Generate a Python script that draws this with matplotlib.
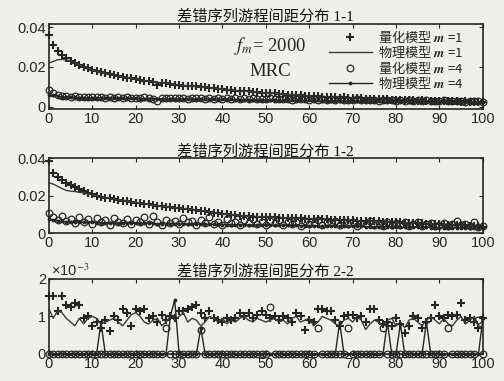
import numpy as np
import matplotlib
matplotlib.use('Agg')
import matplotlib.pyplot as plt

plt.rcParams['font.family'] = ['Liberation Sans', 'Noto Sans CJK SC']
plt.rcParams['mathtext.fontset'] = 'stix'

# run spacing 0..100
spacing = list(range(101))

# panel 1-1, values in units of 1e-4
p11_quant_m1 = [360, 310, 282, 262, 246, 232, 218, 210, 199, 193,
                184, 180, 173, 170, 163, 160, 154, 152, 146, 144,
                138, 136, 131, 130, 125, 112, 122, 118, 117, 112,
                111, 107, 107, 103, 103, 99, 99, 95, 95, 91,
                90, 86, 86, 82, 82, 78, 79, 75, 75, 71,
                71, 68, 68, 65, 65, 62, 62, 59, 59, 56,
                56, 53, 54, 51, 52, 49, 50, 47, 48, 45,
                46, 43, 44, 41, 42, 39, 41, 38, 39, 36,
                37, 35, 36, 33, 35, 32, 34, 31, 32, 30,
                31, 29, 30, 28, 29, 27, 28, 26, 27, 25,
                26]
p11_phys_m1 = [220, 228, 236, 238, 236, 229, 219, 209, 200, 192,
               185, 179, 173, 168, 163, 159, 155, 151, 147, 143,
               139, 136, 132, 129, 126, 120, 121, 119, 116, 113,
               111, 108, 106, 104, 102, 100, 98, 96, 94, 91,
               89, 87, 85, 83, 81, 79, 77, 76, 74, 72,
               70, 69, 67, 66, 64, 63, 61, 60, 58, 57,
               56, 54, 53, 52, 51, 50, 49, 48, 47, 46,
               45, 44, 43, 42, 41, 41, 40, 39, 38, 37,
               37, 36, 35, 35, 34, 33, 33, 32, 31, 31,
               30, 30, 29, 29, 28, 28, 27, 27, 27, 26,
               26]
p11_quant_m4 = [85, 72, 62, 57, 55, 52, 54, 50, 52, 49,
                51, 48, 50, 47, 49, 46, 50, 45, 48, 46,
                47, 44, 48, 45, 42, 30, 44, 46, 43, 47,
                44, 46, 42, 45, 43, 46, 42, 45, 41, 44,
                42, 45, 41, 44, 40, 43, 41, 44, 39, 42,
                40, 43, 38, 41, 39, 42, 37, 40, 38, 41,
                36, 39, 37, 40, 35, 38, 36, 39, 34, 37,
                35, 38, 33, 36, 34, 37, 32, 35, 33, 36,
                31, 34, 32, 35, 30, 33, 31, 34, 29, 32,
                30, 33, 28, 31, 29, 32, 27, 30, 28, 31,
                27]
p11_phys_m4 = [62, 58, 55, 52, 50, 49, 48, 47, 47, 46,
               46, 45, 45, 45, 44, 44, 44, 43, 43, 43,
               43, 42, 42, 42, 42, 41, 41, 41, 41, 40,
               40, 40, 40, 40, 39, 39, 39, 39, 38, 38,
               38, 38, 38, 37, 37, 37, 37, 36, 36, 36,
               36, 35, 35, 35, 35, 34, 34, 34, 34, 33,
               33, 33, 33, 32, 32, 32, 32, 31, 31, 31,
               31, 30, 30, 30, 30, 29, 29, 29, 29, 28,
               28, 28, 28, 27, 27, 27, 27, 26, 26, 26,
               26, 25, 25, 25, 25, 24, 24, 24, 24, 23,
               23]

# panel 1-2, values in units of 1e-4
p12_quant_m1 = [385, 320, 298, 284, 270, 257, 244, 233, 223, 214,
                207, 200, 195, 189, 185, 180, 176, 173, 169, 166,
                163, 160, 157, 153, 151, 147, 145, 141, 139, 136,
                134, 131, 129, 125, 123, 119, 117, 113, 110, 106,
                103, 100, 98, 95, 94, 91, 90, 88, 88, 86,
                86, 84, 84, 82, 82, 80, 80, 79, 79, 78,
                78, 76, 76, 74, 74, 72, 72, 71, 70, 69,
                69, 67, 67, 65, 65, 63, 63, 61, 61, 59,
                58, 57, 56, 55, 54, 53, 52, 51, 50, 49,
                48, 46, 45, 44, 43, 42, 41, 40, 38, 37,
                35]
p12_phys_m1 = [268, 262, 250, 238, 228, 224, 222, 218, 214, 209,
               204, 199, 194, 189, 185, 181, 177, 173, 170, 166,
               163, 160, 156, 153, 150, 147, 144, 141, 138, 136,
               133, 130, 128, 125, 122, 119, 116, 113, 110, 107,
               104, 101, 99, 96, 94, 92, 90, 89, 88, 87,
               86, 85, 84, 83, 82, 81, 80, 79, 79, 78,
               77, 76, 75, 74, 73, 72, 71, 71, 70, 69,
               68, 67, 66, 65, 64, 63, 62, 61, 60, 59,
               58, 57, 56, 55, 54, 53, 52, 51, 50, 49,
               48, 47, 46, 45, 44, 43, 42, 40, 39, 38,
               36]
p12_quant_m4 = [108, 85, 72, 92, 65, 78, 55, 88, 62, 75,
                50, 82, 58, 70, 45, 80, 60, 52, 74, 48,
                68, 57, 84, 50, 93, 62, 45, 72, 55, 66,
                48, 80, 58, 64, 42, 70, 54, 86, 50, 62,
                46, 75, 56, 60, 44, 68, 52, 78, 48, 58,
                42, 66, 54, 72, 46, 60, 50, 58, 40, 64,
                48, 56, 70, 44, 60, 52, 66, 42, 58, 50,
                62, 40, 54, 48, 66, 44, 56, 38, 60, 46,
                52, 42, 58, 36, 50, 62, 40, 48, 54, 38,
                46, 56, 36, 50, 66, 42, 48, 38, 60, 34,
                40]
p12_phys_m4 = [75, 70, 66, 63, 61, 60, 59, 58, 58, 57,
               57, 56, 56, 55, 55, 55, 54, 54, 54, 53,
               53, 53, 52, 52, 52, 51, 51, 51, 50, 50,
               50, 49, 49, 49, 48, 48, 48, 47, 47, 47,
               46, 46, 46, 45, 45, 45, 44, 44, 44, 43,
               43, 43, 42, 42, 42, 41, 41, 41, 40, 40,
               40, 39, 39, 39, 38, 38, 38, 37, 37, 37,
               36, 36, 36, 35, 35, 35, 34, 34, 34, 33,
               33, 33, 32, 32, 32, 31, 31, 31, 30, 30,
               30, 29, 29, 29, 28, 28, 28, 27, 27, 27,
               26]

# panel 2-2, values in units of 1e-3
p22_quant_m1 = [1.55, 1.55, 1.15, 1.55, 1.3, 1.25, 1.35, 1.3, 0.95, 1.0,
                0.75, 0.85, 0.7, 0.9, 0.6, 1.0, 0.9, 1.2, 1.1, 0.75,
                1.2, 1.15, 1.2, 0.95, 1.0, 0.85, 1.05, 0.9, 1.0, 0.95,
                1.15, 1.15, 1.2, 1.25, 1.3, 1.1, 0.95, 1.15, 0.95, 0.9,
                0.85, 0.95, 0.9, 0.95, 1.1, 1.0, 1.1, 0.95, 1.05, 1.15,
                1.05, 0.95, 1.0, 0.9, 1.0, 0.95, 0.85, 1.1, 1.0, 0.65,
                0.9, 0.85, 1.2, 1.2, 1.15, 1.15, 0.9, 0.75, 1.0, 1.05,
                1.05, 0.95, 1.0, 0.85, 1.2, 1.2, 0.9, 0.8, 0.85, 0.75,
                0.95, 0.8, 0.55, 0.75, 1.0, 0.95, 0.7, 0.85, 0.95, 1.3,
                1.0, 0.95, 1.05, 1.0, 1.05, 1.35, 0.9, 0.95, 0.85, 0.7,
                0.95]
p22_phys_m1 = [1.2, 0.95, 1.15, 1.1, 0.95, 0.85, 0.75, 0.95, 0.8, 0.95,
               1.0, 0.95, 0.8, 0.85, 0.9, 0.95, 0.85, 0.75, 0.9, 1.05,
               1.1, 1.0, 0.85, 0.8, 0.9, 0.95, 0.75, 0.85, 1.0, 0.9,
               1.0, 1.1, 0.85, 0.95, 0.9, 0.75, 0.85, 1.0, 0.95, 0.85,
               0.95, 0.8, 0.9, 0.85, 0.95, 1.0, 0.9, 0.85, 0.95, 0.9,
               0.85, 0.9, 0.95, 0.85, 0.9, 0.8, 0.95, 1.0, 0.85, 0.9,
               0.95, 0.75, 0.85, 1.0, 0.95, 0.9, 0.8, 0.75, 0.9, 0.95,
               0.85, 1.0, 0.9, 0.65, 0.8, 0.9, 0.85, 0.75, 0.9, 0.95,
               0.75, 0.85, 0.7, 0.9, 0.95, 0.85, 0.75, 0.9, 1.0, 0.9,
               0.8, 0.95, 0.8, 0.75, 0.9, 1.0, 0.8, 0.9, 1.0, 0.75,
               0.7]
p22_quant_m4 = [0, 0, 0, 0, 0, 0, 0, 0, 0, 0,
                0, 0, 0, 0, 0, 0, 0, 0, 0, 0,
                0, 0, 0, 0, 0, 0, 0, 0.7, 0, 0,
                0, 0, 0, 0, 0, 0.65, 0, 0, 0, 0,
                0, 0, 0, 0, 0, 0, 0, 0, 0, 0,
                0, 1.25, 0, 0, 0, 0, 0, 0, 0, 0,
                0, 0, 0.7, 0, 0, 0, 0, 0, 0, 0.7,
                0, 0, 0, 0, 0, 0, 0, 0.7, 0, 0,
                0, 0, 0, 0, 0, 0, 0, 0, 0, 0,
                0, 0, 0.7, 0, 0, 0, 0, 0, 0, 0.9,
                0]
p22_phys_m4 = [0, 0, 0, 0, 0, 0, 0, 0, 0, 0,
               0, 0, 0.85, 0, 0, 0, 0, 0, 0, 0,
               0, 0, 0, 0, 0, 0, 0, 0, 1.0, 1.45,
               0, 0, 0, 0, 0, 0.7, 0, 0, 0, 0,
               0, 0, 0, 0, 0, 0, 0, 0, 0, 0,
               0, 0, 0, 0, 0, 0, 0, 0, 0, 0,
               0, 0, 0, 0, 0, 0, 0, 0.85, 0, 0,
               0, 0, 0, 0, 0, 0, 0, 0, 0.85, 0,
               0, 0.8, 0, 0, 0, 0, 0, 0.85, 0, 0,
               0, 0, 0, 0, 0, 0, 0, 0, 0, 0,
               0.95]

titles = ['差错序列游程间距分布 1-1', '差错序列游程间距分布 1-2', '差错序列游程间距分布 2-2']
labels = ['量化模型 $\\mathbfit{m}$ =1', '物理模型 $\\mathbfit{m}$ =1',
          '量化模型 $\\mathbfit{m}$ =4', '物理模型 $\\mathbfit{m}$ =4']

ink = '#262626'
bg = '#efefec'

fig = plt.figure(figsize=(5.04, 3.81), dpi=100, facecolor=bg)
ax1 = fig.add_axes([0.097, 0.714, 0.861, 0.223])
ax2 = fig.add_axes([0.097, 0.388, 0.861, 0.197])
ax3 = fig.add_axes([0.097, 0.071, 0.861, 0.197])

panels = [
    (ax1, [v * 1e-4 for v in p11_quant_m1], [v * 1e-4 for v in p11_phys_m1],
     [v * 1e-4 for v in p11_quant_m4], [v * 1e-4 for v in p11_phys_m4]),
    (ax2, [v * 1e-4 for v in p12_quant_m1], [v * 1e-4 for v in p12_phys_m1],
     [v * 1e-4 for v in p12_quant_m4], [v * 1e-4 for v in p12_phys_m4]),
    (ax3, p22_quant_m1, p22_phys_m1, p22_quant_m4, p22_phys_m4),
]

for i, (ax, qm1, pm1, qm4, pm4) in enumerate(panels):
    ax.set_facecolor(bg)
    ax.plot(spacing, qm1, ls='none', marker='+', ms=5.5, mew=1.5, color=ink, clip_on=False, label=labels[0])
    ax.plot(spacing, pm1, ls='-', lw=1.0, color='#3a3a3a', label=labels[1])
    ax.plot(spacing, qm4, ls='none', marker='o', ms=4.8, mew=0.9, mfc='none', mec=ink, clip_on=False, label=labels[2])
    ax.plot(spacing, pm4, ls='-', lw=1.0, marker='.', ms=3.5, color=ink, clip_on=False, label=labels[3])
    ax.set_xlim(0, 100)
    ax.set_xticks(range(0, 101, 10))
    ax.tick_params(direction='in', length=3, width=0.8, top=True, right=True,
                   labelsize=10.5, colors=ink, pad=2)
    for s in ax.spines.values():
        s.set_linewidth(1.2)
        s.set_color(ink)
    ax.set_title(titles[i], fontsize=11, color='#111111', pad=2,
                 family=['Liberation Serif', 'Noto Sans CJK SC'])

ax1.set_ylim(-0.001, 0.0415)
ax1.set_yticks([0, 0.02, 0.04])
ax1.set_yticklabels(['0', '0.02', '0.04'])
ax2.set_ylim(0, 0.04)
ax2.set_yticks([0, 0.02, 0.04])
ax2.set_yticklabels(['0', '0.02', '0.04'])
ax3.set_ylim(0, 2)
ax3.set_yticks([0, 1, 2])
ax3.text(0.005, 1.0, '×10$^{-3}$', transform=ax3.transAxes, ha='left', va='bottom',
         fontsize=10.5, color=ink)

leg = ax1.legend(loc='upper right', bbox_to_anchor=(0.975, 1.05), frameon=False,
                 handlelength=3.3, handletextpad=0.4, labelspacing=0.0, borderpad=0.2,
                 labelcolor=ink, prop={'family': ['Noto Sans CJK SC'], 'size': 9.5})
ax1.text(0.51, 0.74, '$f_m$= 2000', transform=ax1.transAxes, ha='center', va='center',
         fontsize=13.5, family='Liberation Serif', color=ink)
ax1.text(0.51, 0.44, 'MRC', transform=ax1.transAxes, ha='center', va='center',
         fontsize=13.5, family='Liberation Serif', color=ink)

fig.savefig('out.png', dpi=100, facecolor=bg)
